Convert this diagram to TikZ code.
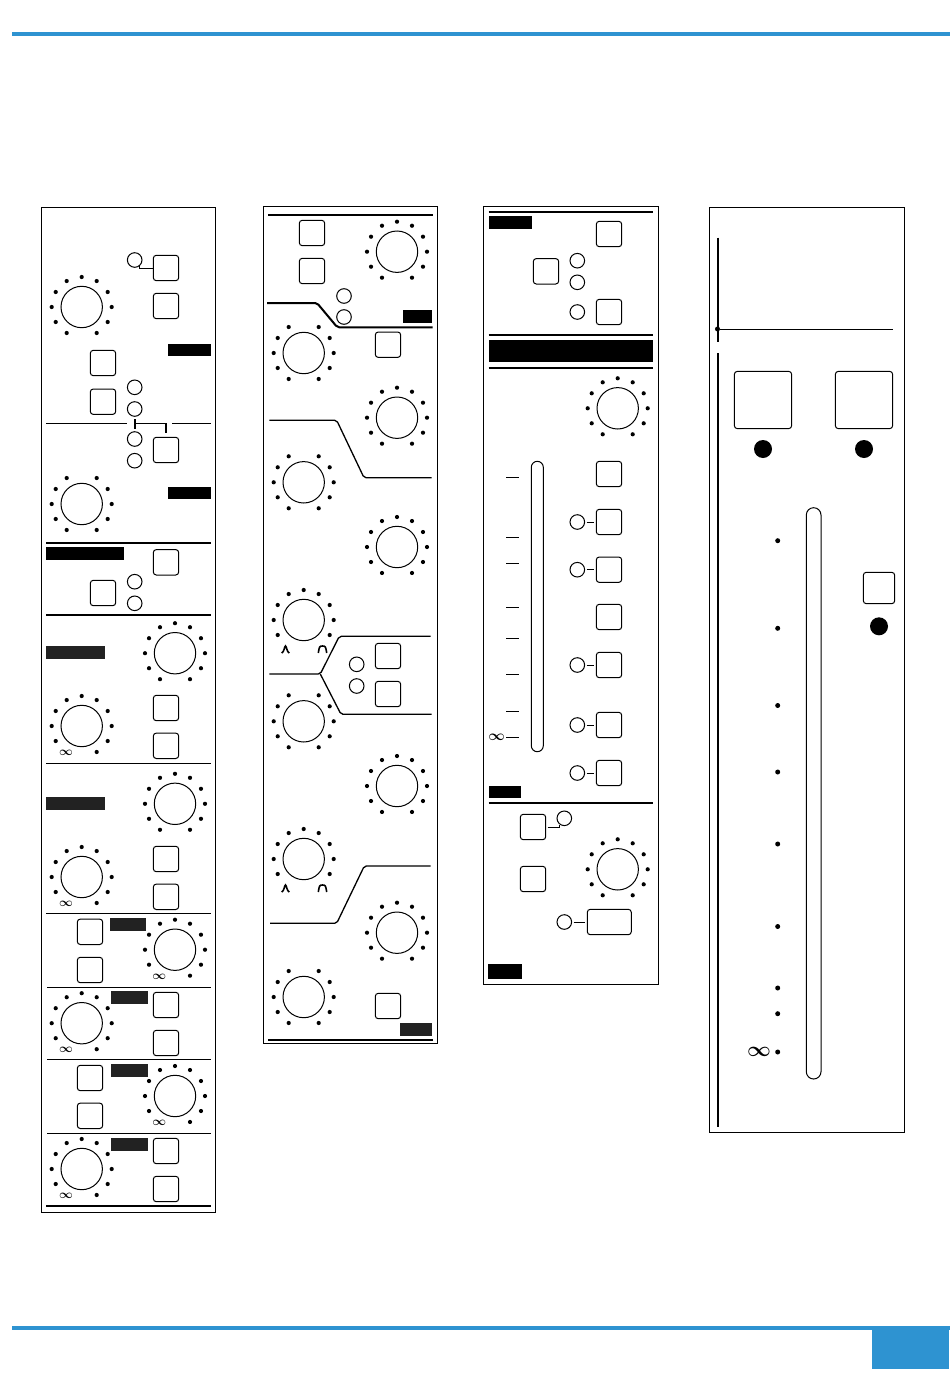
\documentclass[tikz,border=0pt]{standalone}
\usepackage{xcolor}
\usepackage{tikz}
\usetikzlibrary{positioning}
\definecolor{pageblue}{HTML}{2E93D1}
\definecolor{labelgrey}{HTML}{222222}
\def\ringfull{0,30,60,90,120,150,180,210,240,300,330}
\def\ringopen{0,30,60,120,150,180,210,240,300,330}
\def\ringinf{0,30,60,90,120,150,180,210,300,330}
\def\ringpeak{0,30,60,90,120,150,180,210,330}
\newcommand{\knob}[4]{%
  \node[knobcap] (#1) at (#2,#3) {};
  \foreach \a in #4 {\path[fill=black] (#1.center) ++(\a:30pt) circle (2.1pt);}
}
\newcommand{\infmark}[3]{\node[infsign] (#1) at (#2,#3) {$\infty$};}
\newcommand{\plate}[4]{\path[fill=#4] (#1,#2) rectangle (#3);}
\begin{document}
\begin{tikzpicture}[
    x=1pt,
    y=-1pt,
    panel/.style={draw, line width=1pt},
    btn/.style={draw, rectangle, rounded corners=3pt, line width=1pt, minimum size=25.4pt, inner sep=0},
    widebtn/.style={btn, minimum width=44pt},
    bigbtn/.style={btn, minimum size=57.3pt},
    midbtn/.style={btn, minimum size=31.4pt},
    led/.style={draw, circle, line width=1pt, minimum size=14.6pt, inner sep=0},
    lamp/.style={fill=black, circle, minimum size=18pt, inner sep=0},
    knobcap/.style={draw, circle, line width=1pt, minimum size=41.4pt, inner sep=0},
    infsign/.style={inner sep=0, font=\boldmath\fontsize{12.5}{13}\selectfont},
    tick/.style={line width=1pt},
    rule/.style={line width=1pt},
    heavy/.style={line width=2pt},
    slopeline/.style={line width=1.3pt, rounded corners=2pt},
    link/.style={line width=1pt, shorten <=1.5pt, shorten >=1.5pt},
    peak/.style={line width=1.6pt}]
\useasboundingbox (0,0) rectangle (950,1397);

% page bars
\path[fill=pageblue] (12,32) rectangle (950,36);
\path[fill=pageblue] (12,1326) rectangle (950,1330);
\path[fill=pageblue] (872,1326) rectangle (949,1369);

% first strip
\path[panel] (41.5,207) rectangle (215.5,1212);
\node[led] (stripAledA) at (134.7,260) {};
\node[btn] (stripAbtnA) at (166,268) {};
\draw[line width=1pt] (stripAledA.-55) |- (stripAbtnA.west);
\node[btn] (stripAbtnB) at (166,306) {};
\knob{stripAknobA}{81.7}{307}{\ringfull}
\plate{167.7}{344}{211,356.3}{black}
\node[btn] (stripAbtnC) at (103,363) {};
\node[btn] (stripAbtnD) at (103,401.7) {};
\node[led] (stripAledB) at (134.7,387.3) {};
\node[led] (stripAledC) at (134.7,409) {};
\draw[rule] (46,423.3) -- (126.7,423.3);
\draw[rule] (172,423.3) -- (211,423.3);
\node[led] (stripAledD) at (134.7,439) {};
\node[led] (stripAledE) at (134.7,460.7) {};
\node[btn] (stripAbtnE) at (166,450) {};
\coordinate (stripAtop) at (134.7,419.3);
\coordinate (stripAfoot) at (134.7,428.7);
\coordinate (stripAhook) at (166,432.7);
\draw[line width=1.6pt] (stripAtop) -- (stripAfoot);
\draw[line width=1.6pt] (134.7,423.6) -| (stripAhook);
\knob{stripAknobB}{81.7}{504}{\ringopen}
\plate{167.7}{486.7}{211,499}{black}
\draw[heavy] (46,542.7) -- (211,542.7);
\plate{46}{547.3}{124,560.3}{black}
\node[btn] (stripAbtnF) at (166,562.3) {};
\node[btn] (stripAbtnG) at (103,593) {};
\node[led] (stripAledF) at (134.7,581.7) {};
\node[led] (stripAledG) at (134.7,603.3) {};
\draw[heavy] (46,615) -- (211,615);
\knob{stripAknobC}{175}{653.2}{\ringfull}
\plate{46}{645.8}{104.7,659}{labelgrey}
\knob{stripAknobD}{81.7}{726}{\ringinf}
\infmark{stripAinfA}{66}{753}
\node[btn] (stripAbtnH) at (166,708) {};
\node[btn] (stripAbtnI) at (166,745.8) {};
\draw[rule] (46,763.3) -- (211,763.3);
\knob{stripAknobE}{175}{803.8}{\ringfull}
\plate{46}{796.8}{104.7,810}{labelgrey}
\knob{stripAknobF}{81.7}{877}{\ringinf}
\infmark{stripAinfB}{66}{903.8}
\node[btn] (stripAbtnJ) at (166,859) {};
\node[btn] (stripAbtnK) at (166,896.8) {};
\draw[rule] (46,913.5) -- (211,913.5);
\node[btn] (stripAbtnL) at (90,931.8) {};
\node[btn] (stripAbtnM) at (90,970) {};
\plate{110}{917.8}{146.3,930.6}{labelgrey}
\knob{stripAknobG}{175}{949.7}{\ringinf}
\infmark{stripAinfC}{159.3}{976.5}
\draw[rule] (47,987.4) -- (211,987.4);
\knob{stripAknobH}{81.7}{1023.2}{\ringinf}
\infmark{stripAinfD}{66}{1050}
\plate{111}{991}{147.7,1004}{labelgrey}
\node[btn] (stripAbtnN) at (166,1005) {};
\node[btn] (stripAbtnO) at (166,1043) {};
\draw[rule] (47,1059.4) -- (211,1059.4);
\node[btn] (stripAbtnP) at (90,1078) {};
\node[btn] (stripAbtnQ) at (90,1115.8) {};
\plate{111}{1063.7}{147.7,1076.5}{labelgrey}
\knob{stripAknobI}{175}{1096}{\ringinf}
\infmark{stripAinfE}{159.3}{1122.9}
\draw[rule] (47,1133.4) -- (211,1133.4);
\knob{stripAknobJ}{81.7}{1169}{\ringinf}
\infmark{stripAinfF}{66}{1196}
\plate{111}{1137.6}{147.7,1150.5}{labelgrey}
\node[btn] (stripAbtnR) at (166,1151) {};
\node[btn] (stripAbtnS) at (166,1189) {};
\draw[heavy] (46,1205.7) -- (211,1205.7);

% second strip
\path[panel] (263.3,206.3) rectangle (437.3,1043.3);
\draw[heavy] (268.3,214.7) -- (432.7,214.7);
\node[btn] (stripBbtnA) at (312,233) {};
\node[btn] (stripBbtnB) at (312,271) {};
\knob{stripBknobA}{397}{251.7}{\ringfull}
\node[led] (stripBledA) at (344,296) {};
\node[led] (stripBledB) at (344,317) {};
\plate{403.3}{310.3}{432.3,323}{black}
\draw[line width=2pt, rounded corners=2pt] (267,303) -- (317,303) -- (337.3,327.3) -- (432.7,327.3);
\knob{stripBknobB}{303.7}{353}{\ringopen}
\node[btn] (stripBbtnC) at (388,344.7) {};
\knob{stripBknobC}{397}{417.7}{\ringfull}
\draw[slopeline] (269.3,420.3) -- (336.7,420.3) -- (364,477.7) -- (431.7,477.7);
\knob{stripBknobD}{303.7}{482.3}{\ringopen}
\knob{stripBknobE}{397}{547}{\ringfull}
\knob{stripBknobF}{303.7}{620}{\ringpeak}
\draw[peak] (281.7,653) .. controls (284,652.5) and (284.5,646) .. (285.5,646) .. controls (286.5,646) and (287,652.5) .. (289.3,653);
\draw[peak] (318.3,653) .. controls (319.3,647) and (319.3,646) .. (322.5,646) .. controls (325.7,646) and (325.7,647) .. (326.7,653);
\draw[slopeline] (269.3,674) -- (320.3,674) -- (339.3,636.3) -- (430.7,636.3);
\draw[slopeline] (320.3,674) -- (341,714.3) -- (431.7,714.3);
\node[led] (stripBledC) at (356.7,664.3) {};
\node[led] (stripBledD) at (356.7,686) {};
\node[btn] (stripBbtnD) at (388,656) {};
\node[btn] (stripBbtnE) at (388,694) {};
\knob{stripBknobG}{303.7}{721.3}{\ringopen}
\knob{stripBknobH}{397}{786}{\ringfull}
\knob{stripBknobI}{303.7}{859}{\ringpeak}
\draw[peak] (281.7,892) .. controls (284,891.5) and (284.5,885) .. (285.5,885) .. controls (286.5,885) and (287,891.5) .. (289.3,892);
\draw[peak] (318.3,892) .. controls (319.3,886) and (319.3,885) .. (322.5,885) .. controls (325.7,885) and (325.7,886) .. (326.7,892);
\draw[slopeline] (270,923.3) -- (336.7,923.3) -- (364.3,866) -- (430.7,866);
\knob{stripBknobJ}{397}{932.7}{\ringfull}
\knob{stripBknobK}{303.7}{997}{\ringopen}
\node[btn] (stripBbtnF) at (388,1006) {};
\plate{400}{1023}{432.3,1035.7}{labelgrey}
\draw[heavy] (268.3,1040) -- (432.7,1040);

% third strip
\path[panel] (483.3,206.3) rectangle (658.3,984.3);
\draw[heavy] (488.7,212) -- (653,212);
\plate{488.7}{216}{532,229}{black}
\node[btn] (stripCbtnA) at (609,234) {};
\node[btn] (stripCbtnB) at (546,271.3) {};
\node[led] (stripCledA) at (577.3,260.7) {};
\node[led] (stripCledB) at (577.3,282.3) {};
\node[led] (stripCledC) at (577.3,312) {};
\node[btn] (stripCbtnC) at (609,312) {};
\draw[heavy] (488.7,335) -- (653,335);
\plate{488.7}{340.3}{653,362.3}{black}
\draw[heavy] (488.7,367.7) -- (653,367.7);
\knob{stripCknobA}{617.7}{408.3}{\ringfull}
\path[draw, line width=1pt, rounded corners=6pt] (531.3,461.3) rectangle (543.3,751.7);
\foreach \ty in {477.3,537.3,563,607.3,638.3,674.3,711.3,737.3}
  \draw[tick] (506,\ty) -- (519,\ty);
\node[infsign, font=\boldmath\fontsize{14.5}{15}\selectfont] (stripCinf) at (496.7,737) {$\infty$};
\node[btn] (stripCbtnD) at (609,474) {};
\node[btn] (stripCbtnE) at (609,617) {};
\foreach \n/\ly in {F/522,G/569.7,H/665,I/725,J/773} {
  \node[btn] (stripCbtn\n) at (609,\ly) {};
  \node[led] (stripCled\n) at (577.3,\ly) {};
  \draw[link] (stripCled\n) -- (stripCbtn\n);
}
\plate{488.7}{785.7}{521,798.3}{black}
\draw[heavy] (488.7,802.7) -- (653,802.7);
\node[btn] (stripCbtnK) at (533,827) {};
\node[led] (stripCledK) at (564.3,818.3) {};
\draw[line width=1pt] (stripCbtnK.east) ++(1.5pt,0) -| (stripCledK.-125);
\node[btn] (stripCbtnL) at (533,879) {};
\knob{stripCknobB}{617.7}{869.3}{\ringfull}
\node[led] (stripCledL) at (564.3,922) {};
\node[widebtn] (stripCbtnM) at (609.3,922) {};
\draw[link] (stripCledL) -- (stripCbtnM);
\plate{487.7}{964}{522,978.7}{black}

% fourth strip
\path[panel] (709.3,207.3) rectangle (904.7,1132.7);
\draw[line width=2pt] (717.7,237.7) -- (717.7,342.3);
\draw[line width=2pt] (717.7,353.3) -- (717.7,1126.7);
\node[fill=black, circle, minimum size=5pt, inner sep=0] (stripDjoint) at (717.5,329) {};
\coordinate (stripDend) at (892.7,329);
\draw[line width=0.9pt] (stripDjoint) -- (stripDend);
\node[bigbtn] (stripDbtnA) at (763,400) {};
\node[bigbtn] (stripDbtnB) at (864,400) {};
\node[lamp] (stripDlampA) at (763,449) {};
\node[lamp] (stripDlampB) at (864,449) {};
\path[draw, line width=1pt, rounded corners=7.3pt] (806.3,507.7) rectangle (821,1079);
\node[midbtn] (stripDbtnC) at (879,588) {};
\node[lamp] (stripDlampC) at (879,626.3) {};
\foreach \dy in {540.7,628.3,705.5,772,844,926.5,988,1013.7,1052}
  \path[fill=black] (777.7,\dy) circle (2.5pt);
\node[infsign, font=\boldmath\fontsize{20}{20}\selectfont] (stripDinf) at (759,1052) {$\infty$};

\end{tikzpicture}
\end{document}
